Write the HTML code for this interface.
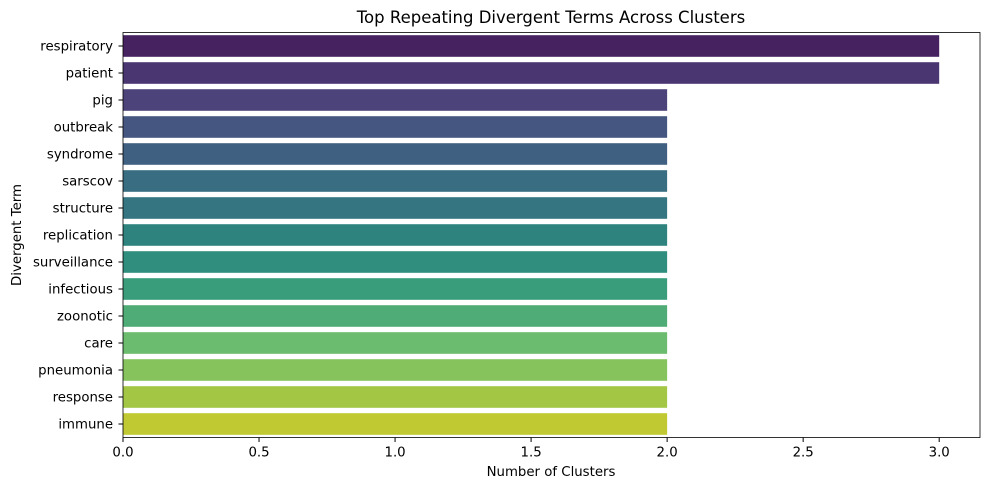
<!DOCTYPE html>
<html><head><meta charset="utf-8"><style>
body{margin:0;background:#fff;}
svg{display:block;font-family:"DejaVu Sans","Liberation Sans",sans-serif;}
</style></head><body>
<svg id="chart" width="989" height="490" viewBox="0 0 989 490">
<text x="551" y="23" text-anchor="middle" font-size="16.5" fill="#000">Top Repeating Divergent Terms Across Clusters</text>
<text x="551" y="476" text-anchor="middle" font-size="13.3" fill="#000">Number of Clusters</text>
<text transform="translate(21,235) rotate(-90)" text-anchor="middle" font-size="13.3" fill="#000">Divergent Term</text>
<g id="bars"></g><g id="axes"></g>
</svg>
<script>
const categories=["respiratory","patient","pig","outbreak","syndrome","sarscov","structure","replication","surveillance","infectious","zoonotic","care","pneumonia","response","immune"];
const values=[3,3,2,2,2,2,2,2,2,2,2,2,2,2,2];
const xTicks=[0,0.5,1.0,1.5,2.0,2.5,3.0];
const xTickLabels=["0.0","0.5","1.0","1.5","2.0","2.5","3.0"];
const palette=["#48186a","#472d7b","#443a83","#3b528b","#355f8d","#2c728e","#287d8e","#21918c","#1f9e89","#28ae80","#3fbc73","#5ec962","#84d44b","#addc30","#d8e219"];
const L=123,R=980,T=32.5,B=437.5,xMax=3.15;
const NS="http://www.w3.org/2000/svg";
function x(v){return L+(v/xMax)*(R-L);}
const band=(B-T)/categories.length;
function yc(i){return T+band*(i+0.5);}
function desat(hex,p){let r=parseInt(hex.slice(1,3),16)/255,g=parseInt(hex.slice(3,5),16)/255,b=parseInt(hex.slice(5,7),16)/255;
let mx=Math.max(r,g,b),mn=Math.min(r,g,b),l=(mx+mn)/2,s=0,h=0,d=mx-mn;
if(d){s=l>0.5?d/(2-mx-mn):d/(mx+mn);h=mx===r?((g-b)/d+(g<b?6:0)):mx===g?(b-r)/d+2:(r-g)/d+4;h/=6;}
s*=p;function f(p,q,t){if(t<0)t+=1;if(t>1)t-=1;if(t<1/6)return p+(q-p)*6*t;if(t<1/2)return q;if(t<2/3)return p+(q-p)*(2/3-t)*6;return p;}
let q=l<0.5?l*(1+s):l+s-l*s,pp=2*l-q;
return "rgb("+[f(pp,q,h+1/3),f(pp,q,h),f(pp,q,h-1/3)].map(v=>Math.round(v*255)).join(",")+")";}
const gb=document.getElementById("bars"),ga=document.getElementById("axes");
categories.forEach((c,i)=>{
 const r=document.createElementNS(NS,"rect");
 r.setAttribute("x",x(0));r.setAttribute("y",yc(i)-band*0.4);
 r.setAttribute("width",x(values[i])-x(0));r.setAttribute("height",band*0.8);
 r.setAttribute("fill",desat(palette[i],0.75));
 
 
 gb.appendChild(r);
 const t=document.createElementNS(NS,"line");
 t.setAttribute("x1",L-4.5);t.setAttribute("x2",L);t.setAttribute("y1",yc(i));t.setAttribute("y2",yc(i));t.setAttribute("stroke","#000");
 ga.appendChild(t);
 const lb=document.createElementNS(NS,"text");
 lb.setAttribute("x",L-10);lb.setAttribute("y",yc(i)+4.5);lb.setAttribute("text-anchor","end");lb.setAttribute("font-size","13.3");
 lb.textContent=c;
 
 
 ga.appendChild(lb);
});
xTicks.forEach((v,i)=>{
 const t=document.createElementNS(NS,"line");
 t.setAttribute("x1",x(v));t.setAttribute("x2",x(v));t.setAttribute("y1",B);t.setAttribute("y2",B+4.5);t.setAttribute("stroke","#000");
 ga.appendChild(t);
 const lb=document.createElementNS(NS,"text");
 lb.setAttribute("x",x(v));lb.setAttribute("y",B+19);lb.setAttribute("text-anchor","middle");lb.setAttribute("font-size","13.3");
 lb.textContent=xTickLabels[i];
 
 
 ga.appendChild(lb);
});
const fr=document.createElementNS(NS,"rect");
fr.setAttribute("x",L);fr.setAttribute("y",T);fr.setAttribute("width",R-L);fr.setAttribute("height",B-T);
fr.setAttribute("fill","none");fr.setAttribute("stroke","#000");fr.setAttribute("stroke-width","0.8");


ga.appendChild(fr);
</script>
</body></html>
